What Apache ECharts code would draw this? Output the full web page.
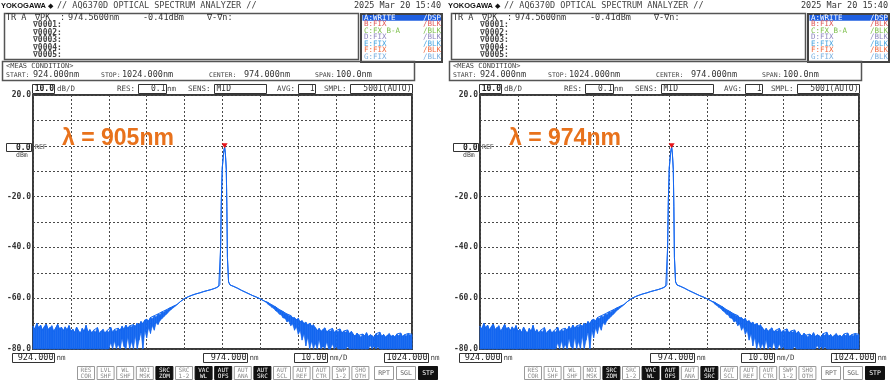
<!DOCTYPE html>
<html><head><meta charset="utf-8">
<script src="https://cdn.jsdelivr.net/npm/echarts@6/dist/echarts.min.js"></script>
<style>html,body{margin:0;padding:0;background:#fff}#c{width:893px;height:384px}</style>
</head><body><div id="c"></div>
<script>
// ---------------- DATA ----------------
const panelLabels = ['λ = 905nm', 'λ = 974nm'];
const headerBrand = 'YOKOGAWA';
const headerTitle = '// AQ6370D OPTICAL SPECTRUM ANALYZER //';
const headerDate = '2025 Mar 20 15:40';
const peakWavelength = 974.56;
const peakLevel = -0.41;
const peakWavelengthText = '974.5600nm';
const peakLevelText = '-0.41dBm';
const markerRows = ['∇0001:', '∇0002:', '∇0003:', '∇0004:', '∇0005:'];
const traceNames = ['A:WRITE', 'B:FIX', 'C:FX B-A', 'D:FIX', 'E:FIX', 'F:FIX', 'G:FIX'];
const traceModes = ['/DSP', '/BLK', '/BLK', '/BLK', '/BLK', '/BLK', '/BLK'];
const measLabels = ['START:', 'STOP:', 'CENTER:', 'SPAN:'];
const measValues = ['924.000nm', '1024.000nm', '974.000nm', '100.0nm'];
const settingLabels = ['RES:', 'SENS:', 'AVG:', 'SMPL:'];
const settingValues = ['0.1', 'MID', '1', '5001(AUTO)'];
const bottomValues = ['924.000', '974.000', '10.00', '1024.000'];
const bottomUnits = ['nm', 'nm', 'nm/D', 'nm'];
const buttonTop = ['RES','LVL','WL','NOI','SRC','SRC','VAC','AUT','AUT','AUT','AUT','AUT','AUT','SWP','SHO'];
const buttonBottom = ['COR','SHF','SHF','MSK','ZOM','1-2','WL','OFS','ANA','SRC','SCL','REF','CTR','1-2','OTH'];
const buttonActive = [0,0,0,0,1,0,1,1,0,1,0,0,0,0,0];
const sideButtons = ['RPT', 'SGL', 'STP'];
const sideActive = [0, 0, 1];
const xMin = 924, xMax = 1024, xStep = 10;
const yMin = -80, yMax = 20, yStep = 10;

// noise floor, short wavelength side (nm / dBm envelope top / bottom)
const leftNoiseWl = [924,924.5,925,925.5,926,926.5,927,927.5,928,928.5,
  929,929.5,930,930.5,931,931.5,932,932.5,933,933.5,
  934,934.5,935,935.5,936,936.5,937,937.5,938,938.5,
  939,939.5,940,940.5,941,941.5,942,942.5,943,943.5,
  944,944.5,945,945.5,946,946.5,947,947.5,948,948.5,
  949,949.5,950];
const leftNoiseTop = [-71.0,-72.3,-69.9,-71.8,-70.6,-72.6,-71.2,-70.2,-72.4,-71.5,
  -70.8,-73.0,-71.7,-70.3,-72.2,-71.4,-72.9,
  -71.3,-72.6,-70.8,-73.1,-72.2,-73.6,-71.4,-72.8,-73.9,-71.9,-73.2,-70.7,-73.5,-72.4,-73.8,-72.6,-73.3,-71.6,-74.0,-72.9,-72.2,-73.7,-72.8,-73.4,-71.5,-73.6,-72.3,-73.0,
  -71.8,-72.7,-71.1,-72.4,-70.6,-71.9,-70.9,-71.3];
const leftNoiseBottom = [-80,-80,-80,-80,-80,-80,-80,-80,-80,-80,
  -80,-80,-80,-80,-80,-80,-80,-80,-80,-80,
  -80,-80,-80,-80,-80,-80,-80,-80,-80,-80,
  -80,-80,-80,-80,-80,-80,-80,-80,-80,-80,
  -80,-77.5,-80,-76.8,-80,-78.2,-80,-76.0,-79.0,-80,
  -75.4,-80,-77.0];
// rising shoulder
const riseWl = [950.5,951,951.5,952,952.5,953,953.5,954,954.5,955,
  955.5,956,956.5,957,957.5,958,958.5,959,959.5,960,
  960.5,961,961.5,962];
const riseTop = [-70.4,-71.2,-69.8,-70.6,-69.2,-70.1,-68.6,-68.2,-69.0,-67.6,
  -68.1,-66.9,-67.4,-66.2,-66.5,-65.4,-65.6,-64.7,-64.6,-63.9,
  -63.7,-63.2,-62.9,-62.5];
const riseBottom = [-80,-74.8,-80,-76.5,-73.4,-80,-72.8,-75.6,-71.6,-73.9,
  -70.8,-72.6,-69.7,-70.4,-68.8,-68.1,-67.3,-66.6,-65.9,-65.0,
  -64.4,-63.8,-63.2,-62.5];
// clean trace around the laser line
const lineWl = [963,964,965,966,967,968,969,970,971,972,972.5,
  973,973.3,973.5,973.7,973.95,974.3,974.56,974.75,975,975.15,975.3,975.6,976,
  977,978,979,980,981,982,983,984,985];
const lineLevel = [-61.2,-60.1,-59.4,-58.8,-58.3,-57.9,-57.4,-57.0,-56.6,-56.1,-55.8,
  -55.3,-54.6,-40.0,-21.0,-8.5,-2.6,-0.41,-2.8,-9.2,-24.0,-44.0,-53.6,-54.8,
  -55.4,-56.1,-56.9,-57.6,-58.3,-59.0,-59.6,-60.3,-61.1];
// falling shoulder
const fallWl = [985.5,986,986.5,987,987.5,988,988.5,989,989.5,990,
  990.5,991,991.5,992,992.5,993,993.5,994,994.5,995,
  995.5,996,996.5,997,997.5,998];
const fallTop = [-61.4,-61.7,-62.3,-62.6,-63.2,-63.4,-64.1,-64.5,-64.9,-65.3,
  -66.0,-66.2,-66.9,-66.8,-67.7,-67.6,-68.4,-67.9,-69.2,-68.8,
  -69.9,-69.4,-70.6,-69.8,-71.0,-70.4];
const fallBottom = [-61.6,-62.4,-62.9,-63.6,-64.0,-64.9,-65.4,-66.3,-66.6,-67.8,
  -67.9,-69.3,-69.0,-70.8,-70.2,-72.6,-71.3,-74.2,-72.8,-76.5,
  -74.1,-78.8,-75.3,-80,-76.9,-80];
// noise floor, long wavelength side
const rightNoiseWl = [998.5,999,999.5,1000,1000.5,1001,1001.5,1002,1002.5,1003,
  1003.5,1004,1004.5,1005,1005.5,1006,1006.5,1007,1007.5,1008,
  1008.5,1009,1009.5,1010,1010.5,1011,1011.5,1012,1012.5,1013,
  1013.5,1014,1014.5,1015,1015.5,1016,1016.5,1017,1017.5,1018,
  1018.5,1019,1019.5,1020,1020.5,1021,1021.5,1022,1022.5,1023,
  1023.5,1024];
const rightNoiseTop = [-71.6,-72.8,-71.9,-73.1,-72.4,-71.7,-73.4,-72.6,-73.0,-71.9,
  -73.6,-72.7,-73.2,-72.1,-73.8,-72.9,-73.4,-72.5,-74.0,-73.1,
  -74.2,-75.0,-73.8,-74.6,-75.3,-74.1,-74.9,-73.6,-75.2,-74.4,
  -74.8,-75.5,-74.0,-74.7,-73.4,-75.1,-74.3,-75.4,-74.6,-73.9,
  -75.0,-74.5,-75.3,-74.1,-74.8,-73.7,-75.2,-74.4,-74.9,-73.9,
  -74.6,-74.2];
const rightNoiseBottom = [-77.8,-80,-76.4,-80,-78.9,-80,-77.2,-80,-80,-78.0,
  -80,-79.1,-80,-80,
  -80,-80,-80,-79.0,-80,-80,-80,-80,-80,-80,
  -80,-80,-80,-80,-80,-78.6,-80,-78.9,-80,-79.2,
  -80,-80,-80,-80,-80,-80,-80,-80,-80,-80,
  -80,-80,-80,-80,-80,-80,-80,-80];

// ---------------- BUILD ----------------
const wavelengths = [].concat(leftNoiseWl, riseWl, lineWl, fallWl, rightNoiseWl);
const upperTrace = [].concat(leftNoiseTop, riseTop, lineLevel, fallTop, rightNoiseTop);
const lowerTrace = [].concat(leftNoiseBottom, riseBottom, lineLevel, fallBottom, rightNoiseBottom);
if (wavelengths.length !== upperTrace.length || wavelengths.length !== lowerTrace.length) {
  throw new Error('length mismatch ' + wavelengths.length + ' ' + upperTrace.length + ' ' + lowerTrace.length);
}

const BLUE = '#1467f0';
const MONO = '"DejaVu Sans Mono", "Liberation Mono", monospace';
function mono(size, bold) { return (bold ? 'bold ' : '') + size + 'px ' + MONO; }
function T(x, y, text, font, fill, align) {
  return { type: 'text', x: x, y: y, silent: true, z: 50,
    style: { text: text, font: font, fill: fill || '#333', align: align || 'left', verticalAlign: 'middle' } };
}
function R(x, y, w, h, stroke, fill, lw) {
  return { type: 'rect', silent: true, z: 40, shape: { x: x, y: y, width: w, height: h },
    style: { fill: fill || 'none', stroke: stroke || 'none', lineWidth: lw || 1 } };
}

const panelOffsets = [0, 447];
const legendColors = ['#ffffff', '#e05a5a', '#7cbf4a', '#9088c0', '#4aa6e0', '#f06a40', '#7ab0e0'];

function buildPanel(ox, idx) {
  const g = [];
  // header
  g.push(T(ox + 1, 6, headerBrand, 'bold 7.5px "Liberation Sans"', '#111'));
  g.push(T(ox + 48, 6, '◆', '7px "DejaVu Sans"', '#111'));
  g.push(T(ox + 57, 6, headerTitle, mono(8.5), '#444'));
  g.push(T(ox + 441, 6, headerDate, mono(8.5), '#333', 'right'));
  // marker info box
  g.push(R(ox + 4.5, 13.5, 354, 46, '#555', 'none', 1.5));
  g.push(T(ox + 6, 17.5, 'TR A', mono(8.5), '#333'));
  g.push(T(ox + 35, 17.5, '∇PK', mono(8.5), '#333'));
  g.push(T(ox + 60, 17.5, ':', mono(8.5), '#333'));
  g.push(T(ox + 68, 17.5, peakWavelengthText, mono(8.5), '#333'));
  g.push(T(ox + 143, 17.5, peakLevelText, mono(8.5), '#333'));
  g.push(T(ox + 207, 17.5, '∇-∇n:', mono(8.5), '#333'));
  markerRows.forEach((t, k) => g.push(T(ox + 33, 25 + k * 7.5, t, mono(8, true), '#444')));
  // trace legend box
  g.push(R(ox + 361, 14, 81, 48, '#444', '#fff', 2));
  g.push(R(ox + 362.5, 15, 78.5, 5.8, null, '#1f5fe0'));
  traceNames.forEach((t, k) => {
    const y = 17.6 + k * 6.55;
    g.push(T(ox + 364, y, t, mono(7.5), legendColors[k]));
    g.push(T(ox + 441, y, traceModes[k], mono(7.5), legendColors[k], 'right'));
  });
  // meas condition
  g.push(R(ox + 2.5, 61.5, 412, 19, '#555', 'none', 1.5));
  g.push(T(ox + 6, 66.5, '<MEAS CONDITION>', mono(7), '#444'));
  const mLx = [6, 101, 209, 315], mVx = [33, 122, 244, 336];
  measLabels.forEach((t, k) => {
    g.push(T(ox + mLx[k], 75.5, t, mono(6.5), '#444'));
    g.push(T(ox + mVx[k], 75, measValues[k], mono(8.5), '#333'));
  });
  // settings row
  g.push(R(ox + 32.5, 84.5, 22, 9, '#333', '#fff', 1));
  g.push(T(ox + 54, 89, '10.0', mono(8, true), '#222', 'right'));
  g.push(T(ox + 57, 89.5, 'dB/D', mono(7.5), '#444'));
  const sLx = [117, 188, 277, 324];
  const sBx = [138.5, 214.5, 298.5, 350.5], sBw = [28, 52, 17, 62];
  settingLabels.forEach((t, k) => {
    g.push(T(ox + sLx[k], 89.5, t, mono(7.5), '#444'));
    g.push(R(ox + sBx[k], 84.5, sBw[k], 9, '#333', '#fff', 1));
    if (k === 1) g.push(T(ox + sBx[k] + 2, 89, settingValues[k], mono(8), '#333'));
    else g.push(T(ox + sBx[k] + sBw[k] - 1, 89, settingValues[k], mono(8), '#333', 'right'));
  });
  g.push(T(ox + 167, 89.5, 'nm', mono(7.5), '#444'));
  // y reference box
  g.push(R(ox + 6.5, 143.5, 25, 8, '#333', '#fff', 1));
  g.push(T(ox + 30.5, 147.5, '0.0', mono(8, true), '#222', 'right'));
  g.push(T(ox + 35, 147.5, 'REF', mono(6.5), '#444'));
  g.push(T(ox + 16, 155.5, 'dBm', mono(6.5), '#444'));
  // bottom row
  const bBx = [12.5, 203.5, 294.5, 384.5], bBw = [42, 44, 33, 44];
  bottomValues.forEach((t, k) => {
    g.push(R(ox + bBx[k], 353.5, bBw[k], 9, '#333', '#fff', 1));
    g.push(T(ox + bBx[k] + bBw[k] - 1, 358, t, mono(8.5), '#222', 'right'));
    g.push(T(ox + bBx[k] + bBw[k] + 2, 358.5, bottomUnits[k], mono(7.5), '#444'));
  });
  // buttons
  buttonTop.forEach((t, k) => {
    const x = ox + 77.5 + k * 19.6;
    const act = buttonActive[k] === 1;
    g.push(R(x, 366.5, 17, 13, act ? '#111' : '#999', act ? '#111' : '#fff', 1));
    g.push(T(x + 8.5, 370, t, mono(6), act ? '#fff' : '#888', 'center'));
    g.push(T(x + 8.5, 376, buttonBottom[k], mono(6), act ? '#fff' : '#888', 'center'));
  });
  const sbx = [374.5, 396.5, 418.5];
  sideButtons.forEach((t, k) => {
    const act = sideActive[k] === 1;
    g.push(R(ox + sbx[k], 366.5, 19, 13, act ? '#111' : '#999', act ? '#111' : '#fff', 1));
    g.push(T(ox + sbx[k] + 9.5, 373, t, mono(6.5), act ? '#fff' : '#666', 'center'));
  });
  // big orange annotation
  g.push(T(ox + 62, 139, panelLabels[idx], 'bold 23px "Liberation Sans", Arial, sans-serif', '#e8721c'));
  return g;
}

const grids = [], xAxes = [], yAxes = [], series = [], graphics = [];
const bandItems = [];
for (let k = 0; k + 1 < wavelengths.length; k++) {
  bandItems.push([wavelengths[k], upperTrace[k], lowerTrace[k], wavelengths[k + 1], upperTrace[k + 1], lowerTrace[k + 1]]);
}
const splitStyle = { show: true, lineStyle: { color: '#4a4a4a', width: 1, type: [2, 2] } };

panelOffsets.forEach((ox, i) => {
  grids.push({ left: 33 + ox, top: 95, width: 379, height: 254, show: true, borderColor: '#3a3a3a', borderWidth: 2, backgroundColor: 'transparent' });
  xAxes.push({ type: 'value', gridIndex: i, min: xMin, max: xMax, interval: xStep,
    axisLine: { show: false }, axisTick: { show: false }, axisLabel: { show: false }, splitLine: splitStyle });
  yAxes.push({ type: 'value', gridIndex: i, min: yMin, max: yMax, interval: yStep,
    axisLine: { show: false }, axisTick: { show: false },
    axisLabel: { show: true, margin: 2, color: '#333', fontFamily: 'DejaVu Sans Mono', fontWeight: 'bold', fontSize: 8,
      formatter: v => (v % 20 === 0 && v !== 0) ? v.toFixed(1) : '' },
    splitLine: splitStyle });
  series.push({
    type: 'custom', xAxisIndex: i, yAxisIndex: i, silent: true, z: 3,
    encode: { x: 0, y: 1 },
    data: bandItems,
    renderItem: (params, api) => {
      const p1 = api.coord([api.value(0), api.value(1)]);
      const p2 = api.coord([api.value(3), api.value(4)]);
      const p3 = api.coord([api.value(3), api.value(5)]);
      const p4 = api.coord([api.value(0), api.value(2)]);
      return { type: 'polygon', shape: { points: [p1, p2, p3, p4] }, style: { fill: BLUE, stroke: BLUE, lineWidth: 0.6 } };
    }
  });
  series.push({
    type: 'line', xAxisIndex: i, yAxisIndex: i, silent: true, z: 4,
    data: wavelengths.map((w, k) => [w, upperTrace[k]]),
    symbol: 'none', lineStyle: { color: BLUE, width: 1 },
    markPoint: { silent: true, symbol: 'triangle', symbolRotate: 180, symbolSize: [6, 5], symbolOffset: [0, -1],
      itemStyle: { color: '#e8141a' }, label: { show: false },
      data: [{ coord: [peakWavelength, peakLevel] }] }
  });
  buildPanel(ox, i).forEach(e => graphics.push(e));
});

const chart = echarts.init(document.getElementById('c'), null, { renderer: 'canvas', width: 893, height: 384 });
chart.setOption({
  animation: false,
  backgroundColor: '#ffffff',
  grid: grids, xAxis: xAxes, yAxis: yAxes, series: series,
  graphic: { elements: graphics }
});
</script>
</body></html>
